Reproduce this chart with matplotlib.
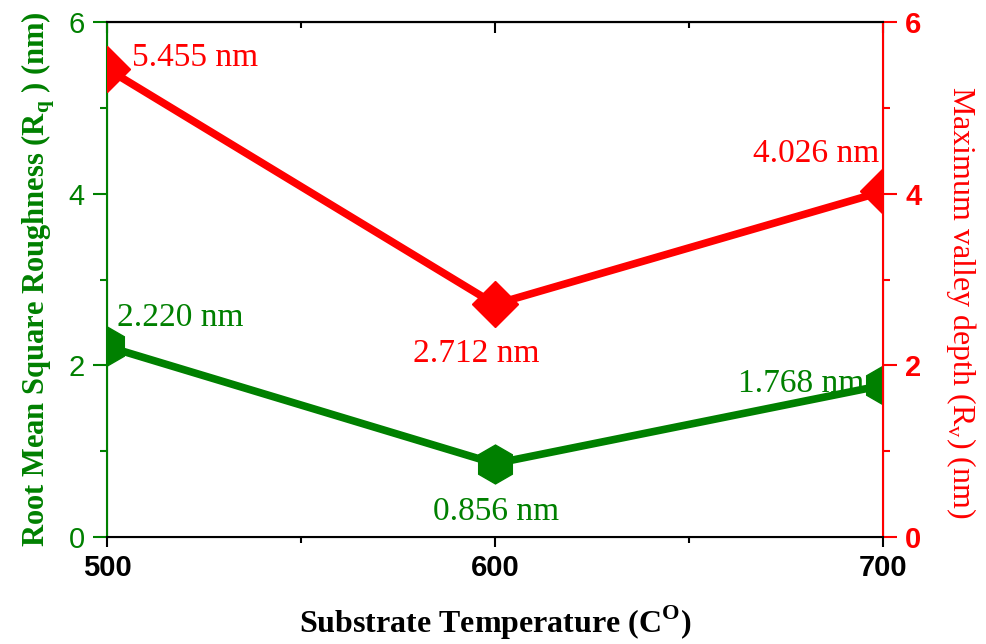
import numpy as np
import matplotlib.pyplot as plt
from matplotlib.ticker import MultipleLocator

# Datos
temperatura = [500, 600, 700]
rq = [2.220, 0.856, 1.768]      # Root Mean Square Roughness (nm)
rv = [5.455, 2.712, 4.026]      # Maximum valley depth (nm)
etiquetas_rq = ['2.220 nm', '0.856 nm', '1.768 nm']
etiquetas_rv = ['5.455 nm', '2.712 nm', '4.026 nm']

verde = '#008000'
rojo = '#ff0000'

fig = plt.figure(figsize=(9.87, 6.44), dpi=100)
ax = fig.add_axes([0.1084, 0.1661, 0.7862, 0.7997])
ax2 = ax.twinx()

ax.plot(temperatura, rq, color=verde, lw=5.5, marker='h', ms=28, zorder=3)
ax2.plot(temperatura, rv, color=rojo, lw=5.5, marker='D', ms=23, zorder=3)

ax.set_xlim(500, 700)
ax.set_ylim(0, 6)
ax2.set_ylim(0, 6)

ax.xaxis.set_major_locator(MultipleLocator(100))
ax.xaxis.set_minor_locator(MultipleLocator(50))
ax.yaxis.set_major_locator(MultipleLocator(2))
ax.yaxis.set_minor_locator(MultipleLocator(1))
ax2.yaxis.set_major_locator(MultipleLocator(2))
ax2.yaxis.set_minor_locator(MultipleLocator(1))

# ticks
ax.tick_params(axis='x', which='both', direction='out', top=False, width=1.5, colors='black')
ax.tick_params(axis='x', which='major', length=7, labelsize=21, pad=5)
ax.tick_params(axis='x', which='minor', length=4)
ax.tick_params(axis='y', which='both', direction='out', colors=verde, width=1.5, labelsize=21)
ax.tick_params(axis='y', which='major', length=10, pad=6)
ax.tick_params(axis='y', which='minor', length=5)
ax2.tick_params(axis='y', which='both', direction='out', colors=rojo, width=1.5, labelsize=21)
ax2.tick_params(axis='y', which='major', length=10, pad=6)
ax2.tick_params(axis='y', which='minor', length=5)
for t in ax.get_xticklabels():
    t.set_fontweight('bold')
    t.set_family(['Liberation Sans Narrow', 'Liberation Sans'])
for t in ax.get_yticklabels():
    t.set_family('Liberation Sans')
for t in ax2.get_yticklabels():
    t.set_family('Liberation Sans')
    t.set_fontweight('bold')

# eje superior con ticks hacia adentro
sec = ax.secondary_xaxis('top')
sec.xaxis.set_major_locator(MultipleLocator(100))
sec.xaxis.set_minor_locator(MultipleLocator(50))
sec.tick_params(which='both', direction='in', labeltop=False, width=1.5, colors='black')
sec.tick_params(which='major', length=8)
sec.tick_params(which='minor', length=4)
sec.spines['top'].set_linewidth(1.5)

for s in ['top', 'bottom']:
    ax2.spines[s].set_color('black')
    ax2.spines[s].set_linewidth(1.5)
ax2.spines['left'].set_color(verde)
ax2.spines['right'].set_color(rojo)
ax2.spines['left'].set_linewidth(1.5)
ax2.spines['right'].set_linewidth(1.5)

# etiquetas de ejes
ax.set_xlabel('Substrate Temperature (C$^\\mathregular{O}$)', family='Liberation Serif',
              fontweight='bold', fontsize=23, labelpad=16)
ax.set_ylabel('Root Mean Square Roughness (R$_\\mathregular{q}$ ) (nm)', family='Liberation Serif',
              fontweight='bold', fontsize=22, color=verde, labelpad=8)
ax2.set_ylabel('Maximum valley depth (R$_\\mathregular{v}$) (nm)', family='Liberation Serif',
               fontsize=23, color=rojo, rotation=270, va='center')
ax2.yaxis.set_label_coords(1.1, 0.455)

# anotaciones
pos_rq = [(502.6, 2.55), (584, 0.30), (662.6, 1.78)]
pos_rv = [(506.4, 5.58), (578.9, 2.14), (666.5, 4.47)]
for (x, y), txt in zip(pos_rq, etiquetas_rq):
    ax.text(x, y, txt, color=verde, family='Liberation Serif', fontsize=24, va='center', ha='left', zorder=5)
for (x, y), txt in zip(pos_rv, etiquetas_rv):
    ax.text(x, y, txt, color=rojo, family='Liberation Serif', fontsize=24, va='center', ha='left', zorder=5)

fig.savefig('out.png', dpi=100)
